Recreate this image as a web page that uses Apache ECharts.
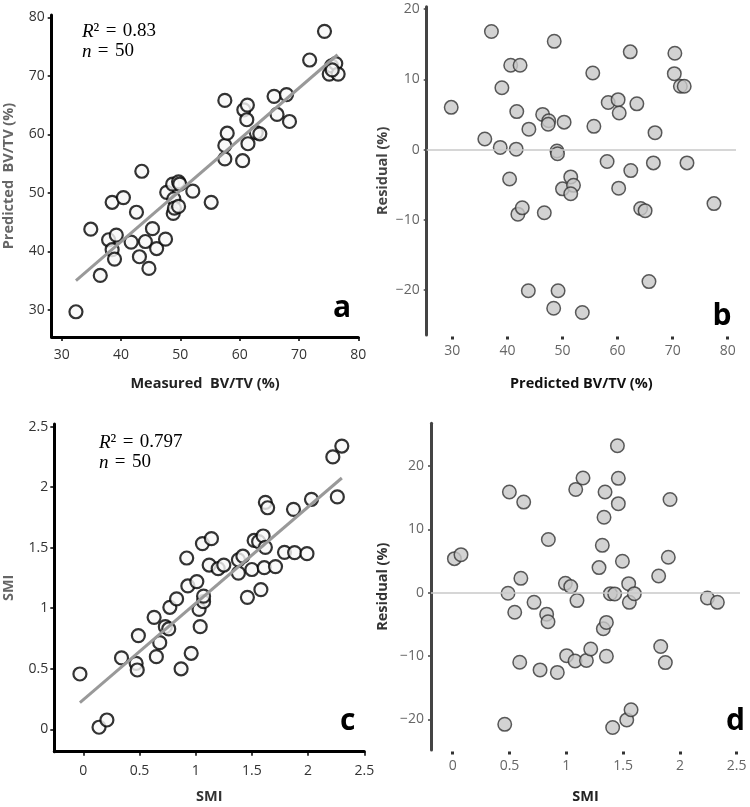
<!DOCTYPE html>
<html>
<head>
<meta charset="utf-8">
<script src="https://cdn.jsdelivr.net/npm/echarts@6/dist/echarts.min.js"></script>
<style>html,body{margin:0;padding:0;background:#fff}#c{width:750px;height:807px}</style>
</head>
<body>
<div id="c"></div>
<script>
// Panel a: measured vs predicted BV/TV
const aX = [32.4,34.9,36.5,37.9,38.5,38.5,38.9,39.2,40.4,41.7,42.6,43.1,43.5,44.1,44.7,45.3,46.0,47.5,47.7,48.7,48.8,48.9,49.0,49.7,49.7,49.9,52.1,55.2,57.5,57.5,57.5,57.9,60.5,60.7,61.3,61.2,61.4,62.8,63.4,65.8,66.3,67.9,68.4,71.8,74.3,75.1,75.5,76.2,76.6,75.6];
const aY = [29.7,43.8,35.9,42.0,48.4,40.3,38.7,42.8,49.2,41.6,46.7,39.1,53.7,41.7,37.1,43.9,40.5,42.1,50.1,51.5,46.5,49.0,47.4,47.7,51.9,51.5,50.3,48.4,55.8,58.1,65.8,60.2,55.5,64.2,65.0,62.5,58.4,60.3,60.1,66.5,63.4,66.8,62.2,72.7,77.6,70.3,71.7,72.1,70.3,71.0];
const aFitX = [32.4, 76.5];
const aFitY = [35.0, 73.6];
// Panel b: residuals vs predicted BV/TV
const bX = [29.8,35.9,37.1,38.7,39.0,40.4,40.6,41.6,41.7,41.9,42.3,42.7,43.8,43.9,46.4,46.7,47.5,47.4,48.4,48.5,49.0,49.1,49.2,50.0,50.3,51.5,52.0,51.5,53.6,55.5,55.7,58.1,58.3,60.1,60.3,60.2,62.3,62.4,63.5,64.2,65.0,65.7,66.8,66.5,70.4,70.3,71.4,72.1,72.6,77.5];
const bY = [6.0,1.5,16.8,0.3,8.8,-4.2,12.0,0.05,5.4,-9.2,12.0,-8.3,-20.1,2.9,5.0,-9.0,4.1,3.6,-22.6,15.4,-0.2,-0.6,-20.1,-5.6,3.9,-3.9,-5.1,-6.3,-23.2,10.9,3.3,-1.7,6.7,7.1,5.2,-5.5,13.9,-3.0,6.5,-8.4,-8.7,-18.8,2.4,-1.9,13.7,10.8,9.0,9.0,-1.9,-7.7];
// Panel c: SMI measured vs predicted
const cX = [-0.03,0.14,0.21,0.34,0.47,0.48,0.49,0.63,0.65,0.68,0.73,0.76,0.77,0.83,0.87,0.92,0.93,0.96,1.01,1.03,1.04,1.06,1.07,1.07,1.12,1.14,1.20,1.25,1.38,1.38,1.42,1.46,1.50,1.52,1.56,1.58,1.60,1.62,1.61,1.62,1.64,1.71,1.79,1.87,1.88,1.99,2.03,2.22,2.26,2.30];
const cY = [0.457,0.017,0.077,0.59,0.545,0.49,0.774,0.925,0.60,0.716,0.848,0.829,1.008,1.077,0.50,1.415,1.184,0.628,1.22,0.99,0.848,1.534,1.054,1.10,1.357,1.575,1.327,1.357,1.29,1.40,1.43,1.09,1.32,1.56,1.55,1.154,1.597,1.503,1.335,1.875,1.83,1.344,1.462,1.817,1.46,1.451,1.90,2.25,1.92,2.34];
const cFitX = [-0.03, 2.30];
const cFitY = [0.22, 2.076];
// Panel d: residuals vs SMI
const dX = [0.015,0.073,0.458,0.487,0.499,0.546,0.59,0.60,0.625,0.716,0.769,0.827,0.839,0.842,0.921,0.992,1.003,1.039,1.077,1.083,1.094,1.147,1.177,1.215,1.288,1.317,1.326,1.332,1.341,1.353,1.353,1.388,1.408,1.426,1.45,1.458,1.458,1.494,1.532,1.549,1.555,1.57,1.599,1.813,1.831,1.872,1.898,1.913,2.242,2.33];
const dY = [5.37,6.0,-20.8,-0.1,15.9,-3.1,-11.0,2.26,14.3,-1.53,-12.2,-3.4,-4.6,8.4,-12.6,1.47,-9.95,0.95,-10.8,16.3,-1.26,18.1,-10.7,-8.9,3.95,7.47,-5.7,11.9,15.9,-4.7,-10.05,-0.16,-21.3,-0.2,23.2,18.05,14.05,4.95,-20.1,1.42,-1.53,-18.5,-0.16,2.63,-8.5,-11.05,5.58,14.7,-0.84,-1.53];
// Tick labels
const bvTicks = [30, 40, 50, 60, 70, 80];
const resBTicks = [-20, -10, 0, 10, 20];
const smiTicks = [0, 0.5, 1, 1.5, 2, 2.5];
const resDTicks = [-20, -10, 0, 10, 20];

const pairs = (xs, ys) => xs.map((x, i) => [x, ys[i]]);
const FONT = 'Open Sans';
const NAME_SIZE = 14.5;
const minusFmt = v => String(v).replace('-', '\u2212');

function nameStyle(color) {
  return {color: color, fontSize: NAME_SIZE, fontWeight: 'bold', fontFamily: FONT};
}
function boxAxis(grid, min, max, ticks, name, nameGap, labelColor, nameColor, margin) {
  return {
    type: 'value', gridIndex: grid, min: min, max: max,
    axisLine: {show: true, onZero: false, lineStyle: {color: '#000', width: 3}},
    axisTick: {show: true, length: 4, customValues: ticks, lineStyle: {color: '#000', width: 1.5}},
    axisLabel: {customValues: ticks, color: labelColor, fontSize: 14, fontFamily: FONT, margin: margin},
    splitLine: {show: false},
    name: name, nameLocation: 'middle', nameGap: nameGap,
    nameTextStyle: nameStyle(nameColor)
  };
}
function dotAxisX(grid, min, max, ticks, name, nameGap, labelColor, nameColor, margin) {
  return {
    type: 'value', gridIndex: grid, min: min, max: max, offset: 1.5,
    axisLine: {show: false, onZero: false},
    axisTick: {show: true, length: 3, customValues: ticks, lineStyle: {color: '#333', width: 3}},
    axisLabel: {customValues: ticks, color: labelColor, fontSize: 14, fontFamily: FONT, margin: margin},
    splitLine: {show: false},
    name: name, nameLocation: 'middle', nameGap: nameGap,
    nameTextStyle: nameStyle(nameColor)
  };
}
function resAxisY(grid, min, max, ticks, name, nameGap, labelColor, nameColor, margin) {
  return {
    type: 'value', gridIndex: grid, min: min, max: max,
    axisLine: {show: true, onZero: false, lineStyle: {color: '#444', width: 3}},
    axisTick: {show: true, length: 3, customValues: ticks, lineStyle: {color: '#444', width: 1.5}},
    axisLabel: {customValues: ticks, color: labelColor, fontSize: 14, fontFamily: FONT, margin: margin, formatter: minusFmt},
    splitLine: {show: false},
    name: name, nameLocation: 'middle', nameGap: nameGap,
    nameTextStyle: nameStyle(nameColor)
  };
}

const openCircle = {color: '#f7f7f7', borderColor: '#000', borderWidth: 2.2};
const grayCircle = {color: '#c8c8c8', borderColor: '#333', borderWidth: 1.5};
const zeroLine = {
  silent: true, symbol: 'none', label: {show: false},
  lineStyle: {color: '#c8c8c8', width: 1.5, type: 'solid'},
  data: [{yAxis: 0}]
};

function annot(x, y, rVal) {
  const rich = {
    i: {fontFamily: 'Liberation Serif', fontStyle: 'italic', fontSize: 19, color: '#444'},
    r: {fontFamily: 'Liberation Serif', fontSize: 19, color: '#444'}
  };
  return [
    {type: 'text', left: x, top: y, style: {text: '{i|R}{r|\u00b2\u2004=\u2004' + rVal + '}', rich: rich}},
    {type: 'text', left: x, top: y + 20, style: {text: '{i|n}{r|\u2004=\u200450}', rich: rich}}
  ];
}
function letter(x, y, t) {
  return {type: 'text', left: x, top: y, style: {text: t, fontFamily: FONT, fontWeight: 'bold', fontSize: 30, fill: '#000'}};
}

const chart = echarts.init(document.getElementById('c'));
chart.setOption({
  animation: false,
  backgroundColor: '#fff',
  grid: [
    {left: 51.7, top: 15, width: 306.6, height: 322},
    {left: 426.7, top: 6.7, width: 309.3, height: 328.3},
    {left: 54.3, top: 424, width: 310, height: 327.7},
    {left: 431, top: 423.3, width: 309, height: 326.7}
  ],
  xAxis: [
    boxAxis(0, 28.31, 80, bvTicks, 'Measured  BV/TV (%)', 39, '#333', '#222', 11),
    dotAxisX(1, 25.35, 81.5, bvTicks, 'Predicted BV/TV (%)', 40, '#666', '#111', 8),
    boxAxis(2, -0.258, 2.5, smiTicks, 'SMI', 38, '#333', '#333', 12),
    dotAxisX(3, -0.191, 2.529, smiTicks, 'SMI', 38, '#666', '#222', 8)
  ],
  yAxis: [
    boxAxis(0, 25.39, 80.39, bvTicks, 'Predicted  BV/TV (%)', 35, '#333', '#666', 7),
    resAxisY(1, -26.4, 20.33, resBTicks, 'Residual (%)', 36, '#666', '#444', 7),
    boxAxis(2, -0.185, 2.522, smiTicks, 'SMI', 38, '#333', '#666', 6),
    resAxisY(3, -24.85, 26.74, resDTicks, 'Residual (%)', 41, '#666', '#333', 7)
  ],
  series: [
    {type: 'line', xAxisIndex: 0, yAxisIndex: 0, data: pairs(aFitX, aFitY), symbol: 'none', lineStyle: {color: '#999', width: 3}, silent: true},
    {type: 'scatter', xAxisIndex: 0, yAxisIndex: 0, data: pairs(aX, aY), symbolSize: 13, itemStyle: openCircle},
    {type: 'scatter', xAxisIndex: 1, yAxisIndex: 1, data: pairs(bX, bY), symbolSize: 13.5, itemStyle: grayCircle, markLine: zeroLine},
    {type: 'line', xAxisIndex: 2, yAxisIndex: 2, data: pairs(cFitX, cFitY), symbol: 'none', lineStyle: {color: '#999', width: 3}, silent: true},
    {type: 'scatter', xAxisIndex: 2, yAxisIndex: 2, data: pairs(cX, cY), symbolSize: 13, itemStyle: openCircle},
    {type: 'scatter', xAxisIndex: 3, yAxisIndex: 3, data: pairs(dX, dY), symbolSize: 13.5, itemStyle: grayCircle, markLine: zeroLine}
  ],
  graphic: [
    ...annot(82, 22, '0.83'),
    ...annot(99, 433, '0.797'),
    letter(333, 293.5, 'a'),
    letter(712.5, 301.5, 'b'),
    letter(340, 706.5, 'c'),
    letter(726, 706.5, 'd')
  ]
});
</script>
</body>
</html>
